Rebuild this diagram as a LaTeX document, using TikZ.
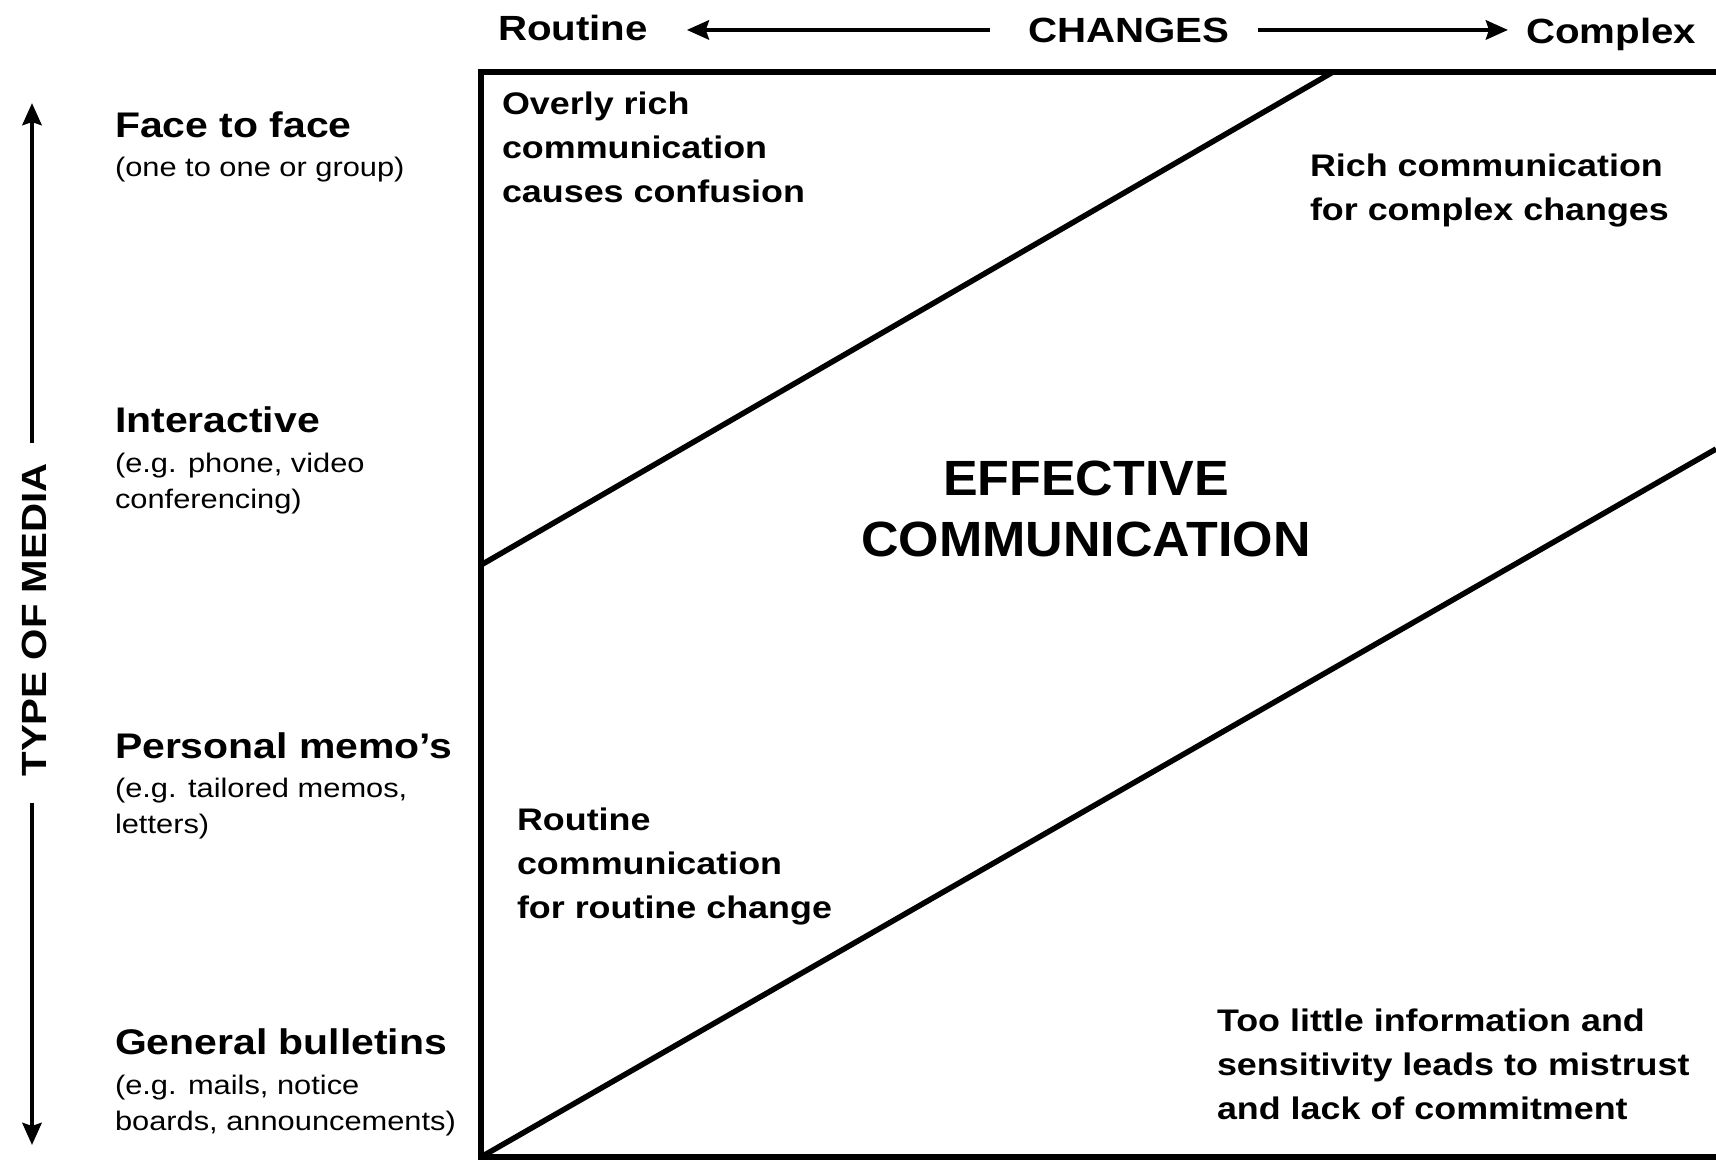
\documentclass[tikz,border=0pt]{standalone}
\usepackage{fontspec}
\setmainfont{Liberation Sans}[FakeStretch=1.15]
\newfontfamily\bigfont{Liberation Sans}[FakeStretch=1.05]
\usepackage{tikz}
\usetikzlibrary{arrows.meta}

\begin{document}
\begin{tikzpicture}[x=1pt,y=-1pt,line join=miter,
	arr/.style={-{Stealth[length=22pt,width=19pt,inset=3pt]},line width=4.8pt}]
	\tikzstyle{every node}=[inner sep=0pt,outer sep=0pt,text=black]
	\tikzstyle{top}=[font=\fontsize{35}{40}\selectfont\bfseries]
	\tikzstyle{head}=[anchor=base west,font=\fontsize{35.6}{40}\selectfont\bfseries]
	\tikzstyle{sub}=[anchor=base west,align=left,font=\fontsize{26.8}{36}\selectfont]
	\tikzstyle{zone}=[anchor=base west,align=left,font=\fontsize{31.2}{43.8}\selectfont\bfseries]
	\tikzstyle{frame}=[line width=5.5pt]
	
	\useasboundingbox (0,0) rectangle (1716,1160);
	
	% changes axis
	\node[top,anchor=base west] (routine) at (498,40) {Routine};
	\node[top,anchor=base]      (changes) at (1129,42) {CHANGES};
	\node[top,anchor=base east] (complex) at (1696,43) {Complex};
	\draw[arr,shorten <=38pt,shorten >=39pt] (changes.west) -- (changes.west -| routine.east);
	\draw[arr,shorten <=28pt,shorten >=18pt] (changes.east) -- (changes.east -| complex.west);
	
	% media axis
	\node[top,rotate=90] (media) at (34,620) {TYPE OF MEDIA};
	\coordinate (mtop) at (32,103);
	\coordinate (mbot) at (32,1145);
	\draw[arr,shorten <=20pt] (media.east -| mtop) -- (mtop);
	\draw[arr,shorten <=26pt] (media.west -| mbot) -- (mbot);
	
	% media types (multi-line nodes sit on their last line)
	\node[head] (face) at (115,137) {Face to face};
	\node[sub] (facesub) at ([yshift=-39pt]face.base west) {(one to one or group)};
	\node[head] (inter) at (115,432) {Interactive};
	\node[sub] (intersub) at ([yshift=-76pt]inter.base west) {(e.g. phone, video\\conferencing)};
	\node[head] (memo) at (115,758) {Personal memo’s};
	\node[sub] (memosub) at ([yshift=-75pt]memo.base west) {(e.g. tailored memos,\\letters)};
	\node[head] (bull) at (115,1054) {General bulletins};
	\node[sub] (bullsub) at ([yshift=-76pt]bull.base west) {(e.g. mails, notice\\boards, announcements)};
	
	% grid
	\draw[frame] (1716,72) -- (481,72) -- (481,1157) -- (1716,1157);
	\draw[frame] (481,565) -- (1333,72);
	\draw[frame] (481,1157) -- (1716,449);
	
	% zones
	\node[zone] (overly) at (502,202) {Overly rich\\communication\\causes confusion};
	\node[zone] (rich) at (1310,220) {Rich communication\\for complex changes};
	\node[zone] (plain) at (517,918) {Routine\\communication\\for routine change};
	\node[zone] (little) at (1217,1119) {Too little information and\\sensitivity leads to mistrust\\and lack of commitment};
	\node[anchor=base,align=center,font=\bigfont\fontsize{49.5}{61}\selectfont\bfseries] (effective) at (1086,556) {EFFECTIVE\\COMMUNICATION};
	
\end{tikzpicture}
\end{document}
